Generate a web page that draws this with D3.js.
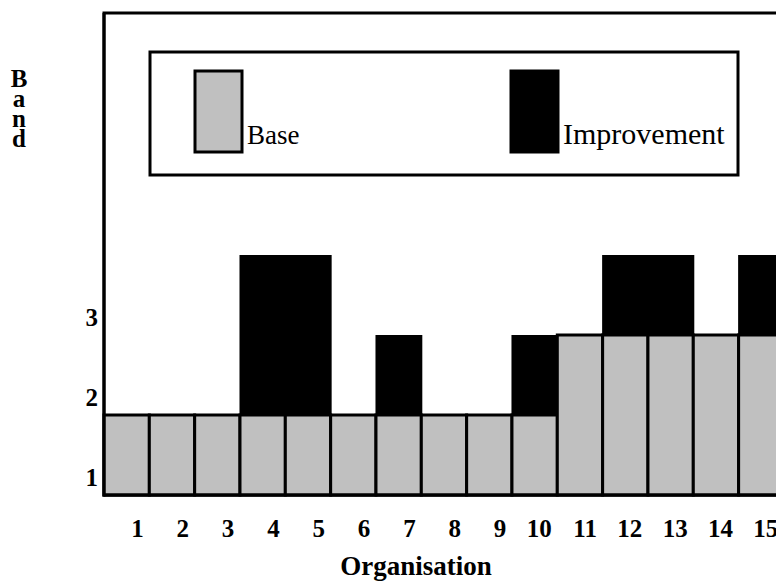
<!DOCTYPE html>
<html>
<head>
<meta charset="utf-8">
<script src="https://cdn.jsdelivr.net/npm/d3@7"></script>
<style>
  body { margin: 0; background: #fff; }
  svg { display: block; }
</style>
</head>
<body>
<div id="chart"></div>
<script>
// organisations along the x axis
const organisations = [1, 2, 3, 4, 5, 6, 7, 8, 9, 10, 11, 12, 13, 14, 15];
// band reached before the improvement
const baseValues = [1, 1, 1, 1, 1, 1, 1, 1, 1, 1, 2, 2, 2, 2, 2];
// extra bands gained
const improvementValues = [0, 0, 0, 2, 2, 0, 1, 0, 0, 1, 0, 1, 1, 0, 1];
const yTicks = [1, 2, 3];
const legendLabels = ["Base", "Improvement"];

const width = 776;
const height = 583;
const marginLeft = 104;
const marginTop = 13;
const marginBottom = 88;
const barWidth = 45.33;

const serif = "'Liberation Serif', 'Times New Roman', serif";

const rows = organisations.map((o, i) => ({
    org: o,
    base: baseValues[i],
    imp: improvementValues[i]
}));

const svg = d3.select("#chart").append("svg")
    .attr("width", width)
    .attr("height", height);

const x = d3.scaleBand()
    .domain(organisations)
    .range([marginLeft, marginLeft + barWidth * organisations.length])
    .padding(0);

const y = d3.scaleLinear()
    .domain([0, 6])
    .range([height - marginBottom, height - marginBottom - 480]);

// plot frame
svg.append("rect")
    .attr("x", marginLeft)
    .attr("y", marginTop)
    .attr("width", width - marginLeft + 10)
    .attr("height", y(0) - marginTop)
    .attr("fill", "none")
    .attr("stroke", "#000")
    .attr("stroke-width", 3);

// improvement bars (stacked on top of base), a hair wider so neighbours join up
svg.append("g")
    .selectAll("rect")
    .data(rows.filter(d => d.imp > 0))
    .join("rect")
    .attr("x", d => x(d.org) - 0.5)
    .attr("y", d => y(d.base + d.imp))
    .attr("width", x.bandwidth() + 1.5)
    .attr("height", d => y(d.base) - y(d.base + d.imp))
    .attr("fill", "#000");

// base bars
svg.append("g")
    .selectAll("rect")
    .data(rows)
    .join("rect")
    .attr("x", d => x(d.org))
    .attr("y", d => y(d.base))
    .attr("width", x.bandwidth())
    .attr("height", d => y(0) - y(d.base))
    .attr("fill", "#c0c0c0")
    .attr("stroke", "#000")
    .attr("stroke-width", 3);

// redraw left and bottom edges on top
svg.append("line")
    .attr("x1", marginLeft).attr("x2", marginLeft)
    .attr("y1", marginTop).attr("y2", y(0) + 1.5)
    .attr("stroke", "#000").attr("stroke-width", 3);
svg.append("line")
    .attr("x1", marginLeft).attr("x2", width)
    .attr("y1", y(0)).attr("y2", y(0))
    .attr("stroke", "#000").attr("stroke-width", 3);

// x tick labels
svg.append("g")
    .attr("font-family", serif)
    .attr("font-weight", "bold")
    .attr("font-size", 25)
    .attr("text-anchor", "end")
    .selectAll("text")
    .data(organisations)
    .join("text")
    .attr("x", d => x(d) + x.bandwidth() / 2 + 17)
    .attr("y", 537)
    .text(d => d);

// y tick labels, sitting near the bottom of each band
svg.append("g")
    .attr("font-family", serif)
    .attr("font-weight", "bold")
    .attr("font-size", 25)
    .attr("text-anchor", "end")
    .selectAll("text")
    .data(yTicks)
    .join("text")
    .attr("x", 98)
    .attr("y", d => y(d - 1) - 9)
    .text(d => d);

// axis titles
svg.append("text")
    .attr("x", 416)
    .attr("y", 575)
    .attr("text-anchor", "middle")
    .attr("font-family", serif)
    .attr("font-weight", "bold")
    .attr("font-size", 27)
    .text("Organisation");

// "Band" written as upright stacked letters
svg.append("text")
    .attr("x", 19)
    .attr("y", 65)
    .attr("font-family", serif)
    .attr("font-weight", "bold")
    .attr("font-size", 25)
    .style("writing-mode", "vertical-rl")
    .style("text-orientation", "upright")
    .style("letter-spacing", "-7px")
    .text("Band");

// legend
const legend = svg.append("g");
legend.append("rect")
    .attr("x", 150)
    .attr("y", 52)
    .attr("width", 588)
    .attr("height", 123)
    .attr("fill", "#fff")
    .attr("stroke", "#000")
    .attr("stroke-width", 3);

const legendX = [195, 511];
const legendFill = ["#c0c0c0", "#000"];
const legendFontSize = [27, 30];

legend.selectAll("rect.swatch")
    .data(legendLabels)
    .join("rect")
    .attr("class", "swatch")
    .attr("x", (d, i) => legendX[i])
    .attr("y", 71)
    .attr("width", 47)
    .attr("height", 81)
    .attr("fill", (d, i) => legendFill[i])
    .attr("stroke", "#000")
    .attr("stroke-width", 3);

legend.selectAll("text")
    .data(legendLabels)
    .join("text")
    .attr("x", (d, i) => legendX[i] + 52)
    .attr("y", 144)
    .attr("font-family", serif)
    .attr("font-size", (d, i) => legendFontSize[i])
    .text(d => d);
</script>
</body>
</html>
